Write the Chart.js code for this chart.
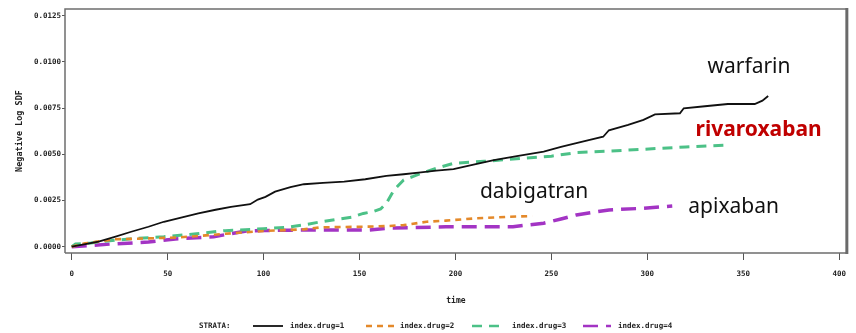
<!DOCTYPE html>
<html>
<head>
<meta charset="utf-8">
<script src="https://cdn.jsdelivr.net/npm/chart.js@4/dist/chart.umd.min.js"></script>
<style>
body { margin: 0; background: #fff; }
#wrap { width: 856px; height: 333px; position: relative; }
</style>
</head>
<body>
<div id="wrap"><canvas id="km"></canvas></div>
<script>
// curves (time, negative log SDF)
const warfarinT = [0, 5, 14, 22, 31, 40, 48, 57, 66, 75, 83, 93, 97, 101, 106, 114, 121, 131, 142, 153, 164, 173, 182, 190, 199, 210, 220, 232, 246, 255, 263, 270, 277, 280, 290, 298, 304, 317, 319, 330, 342, 356, 360, 363];
const warfarinV = [0, 0.0001, 0.00027, 0.00052, 0.00081, 0.00108, 0.00135, 0.00158, 0.0018, 0.002, 0.00216, 0.0023, 0.00255, 0.0027, 0.00298, 0.00322, 0.00338, 0.00345, 0.00352, 0.00365, 0.00383, 0.00392, 0.00402, 0.00412, 0.0042, 0.00445, 0.00469, 0.0049, 0.00514, 0.0054, 0.0056, 0.00578, 0.00595, 0.0063, 0.00659, 0.00686, 0.00716, 0.00722, 0.00749, 0.0076, 0.00772, 0.00772, 0.0079, 0.00815];

const dabigatranT = [0, 7, 15, 22, 40, 55, 66, 80, 100, 121, 130, 152, 165, 173, 185, 195, 211, 228, 240];
const dabigatranV = [0, 0.00018, 0.0003, 0.0004, 0.00045, 0.0005, 0.00058, 0.0007, 0.00085, 0.00094, 0.00105, 0.00108, 0.00112, 0.00117, 0.00135, 0.00141, 0.00154, 0.00162, 0.00166];

const rivaroxabanT = [0, 2, 10, 17, 30, 48, 65, 80, 100, 112, 122, 130, 138, 146, 152, 157, 161, 164, 168, 173, 178, 182, 190, 199, 215, 235, 250, 263, 280, 298, 320, 342];
const rivaroxabanV = [0, 0.00015, 0.0002, 0.0003, 0.00042, 0.00054, 0.0007, 0.00087, 0.00097, 0.00105, 0.0012, 0.00135, 0.00148, 0.0016, 0.0018, 0.0019, 0.00204, 0.00235, 0.00307, 0.00361, 0.0038, 0.00397, 0.00424, 0.00451, 0.00462, 0.00478, 0.0049, 0.00509, 0.00517, 0.00527, 0.0054, 0.0055];

const apixabanT = [0, 12, 21, 40, 54, 74, 91, 100, 120, 155, 165, 195, 230, 237, 246, 255, 263, 280, 298, 313];
const apixabanV = [0, 0.00008, 0.00015, 0.00025, 0.00042, 0.00054, 0.00085, 0.00088, 0.0009, 0.0009, 0.001, 0.00108, 0.00108, 0.00117, 0.00127, 0.0015, 0.00172, 0.00199, 0.00208, 0.0022];

const strataLabels = ['index.drug=1', 'index.drug=2', 'index.drug=3', 'index.drug=4'];
const xTickValues = [0, 50, 100, 150, 200, 250, 300, 350, 400];
const yTickValues = [0, 0.0025, 0.005, 0.0075, 0.01, 0.0125];

// drug names written on the plot, placed at (time, value)
const drugNames = ['warfarin', 'rivaroxaban', 'dabigatran', 'apixaban'];
const drugNameAt = [[353, 0.00972], [358, 0.00631], [241, 0.00296], [345, 0.00215]];

function pts(ts, vs) {
    return ts.map((t, i) => ({ x: t, y: vs[i] }));
}

const sasFont = "'DejaVu Sans Mono', monospace";

const framePlugin = {
    id: 'frame',
    afterDatasetsDraw(chart) {
        const a = chart.chartArea, ctx = chart.ctx;
        ctx.save();
        ctx.strokeStyle = '#6e6e6e';
        ctx.lineWidth = 1.5;
        ctx.beginPath();
        ctx.moveTo(a.left, a.bottom);
        ctx.lineTo(a.left, a.top);
        ctx.lineTo(a.right, a.top);
        ctx.moveTo(a.left, a.bottom);
        ctx.lineTo(a.right, a.bottom);
        ctx.stroke();
        ctx.lineWidth = 3;
        ctx.strokeStyle = '#6a6a6a';
        ctx.beginPath();
        ctx.moveTo(a.right, a.top - 1);
        ctx.lineTo(a.right, a.bottom + 1);
        ctx.stroke();
        ctx.restore();
    }
};

const namesPlugin = {
    id: 'drugNames',
    afterDraw(chart) {
        const ctx = chart.ctx, xs = chart.scales.x, ys = chart.scales.y;
        ctx.save();
        ctx.textAlign = 'center';
        ctx.textBaseline = 'middle';
        drugNames.forEach((name, i) => {
            const bold = name === 'rivaroxaban';
            ctx.font = (bold ? 'bold ' : '') + "21px 'Noto Sans', sans-serif";
            ctx.fillStyle = bold ? '#c00000' : '#111';
            ctx.fillText(name, xs.getPixelForValue(drugNameAt[i][0]), ys.getPixelForValue(drugNameAt[i][1]));
        });
        ctx.restore();
    }
};

// SAS style legend: "STRATA:" then line samples
const strataPlugin = {
    id: 'strata',
    afterDraw(chart) {
        const ctx = chart.ctx;
        const y = 326;
        const sampleX = [[253, 283], [366, 394], [472, 505], [583, 611]];
        const textX = [290, 400, 512, 618];
        ctx.save();
        ctx.fillStyle = '#222';
        ctx.textBaseline = 'middle';
        ctx.font = 'bold 7.5px ' + sasFont;
        ctx.fillText('STRATA:', 199, y);
        chart.data.datasets.forEach((ds, i) => {
            ctx.strokeStyle = ds.borderColor;
            ctx.lineWidth = Math.min(ds.borderWidth, 2.5);
            ctx.setLineDash(ds.borderDash || []);
            ctx.beginPath();
            ctx.moveTo(sampleX[i][0], y);
            ctx.lineTo(sampleX[i][1], y);
            ctx.stroke();
            ctx.setLineDash([]);
            ctx.font = 'bold 7.5px ' + sasFont;
            ctx.fillText(strataLabels[i], textX[i], y);
        });
        ctx.restore();
    }
};

new Chart(document.getElementById('km'), {
    type: 'line',
    data: {
        datasets: [
            { label: strataLabels[0], data: pts(warfarinT, warfarinV), borderColor: '#111111', borderWidth: 1.8 },
            { label: strataLabels[1], data: pts(dabigatranT, dabigatranV), borderColor: '#e4892a', borderWidth: 2.6, borderDash: [6, 5] },
            { label: strataLabels[2], data: pts(rivaroxabanT, rivaroxabanV), borderColor: '#4cc187', borderWidth: 3, borderDash: [10, 7] },
            { label: strataLabels[3], data: pts(apixabanT, apixabanV), borderColor: '#a334c4', borderWidth: 3.5, borderDash: [15, 8] }
        ]
    },
    options: {
        responsive: true,
        maintainAspectRatio: false,
        animation: false,
        elements: { point: { radius: 0 }, line: { tension: 0 } },
        layout: { padding: { left: 0, right: 6, top: 9, bottom: 0 } },
        plugins: { legend: { display: false }, tooltip: { enabled: false } },
        scales: {
            x: {
                type: 'linear',
                min: -3.5,
                max: 404,
                afterBuildTicks: s => { s.ticks = xTickValues.map(v => ({ value: v })); },
                afterFit: s => { s.height = 80; },
                grid: { drawOnChartArea: false, drawTicks: true, tickLength: 7, color: '#555', lineWidth: 1 },
                border: { display: false },
                ticks: { padding: 10, maxRotation: 0, color: '#222', font: { family: sasFont, size: 7.5, weight: 'bold' } },
                title: { display: true, text: 'time', color: '#222', padding: { top: 0, bottom: 27 }, font: { family: sasFont, size: 8, weight: 'bold' } }
            },
            y: {
                type: 'linear',
                min: -0.00034,
                max: 0.01286,
                afterBuildTicks: s => { s.ticks = yTickValues.map(v => ({ value: v })); },
                afterFit: s => { s.width = 65; },
                grid: { drawOnChartArea: false, drawTicks: true, tickLength: 3, color: '#555', lineWidth: 1 },
                border: { display: false },
                ticks: { padding: 1, color: '#222', font: { family: sasFont, size: 7.5, weight: 'bold' }, callback: v => v.toFixed(4) },
                title: { display: true, text: 'Negative Log SDF', color: '#222', padding: { top: 15, bottom: 0 }, font: { family: sasFont, size: 8.5, weight: 'bold' } }
            }
        }
    },
    plugins: [framePlugin, namesPlugin, strataPlugin]
});
</script>
</body>
</html>
